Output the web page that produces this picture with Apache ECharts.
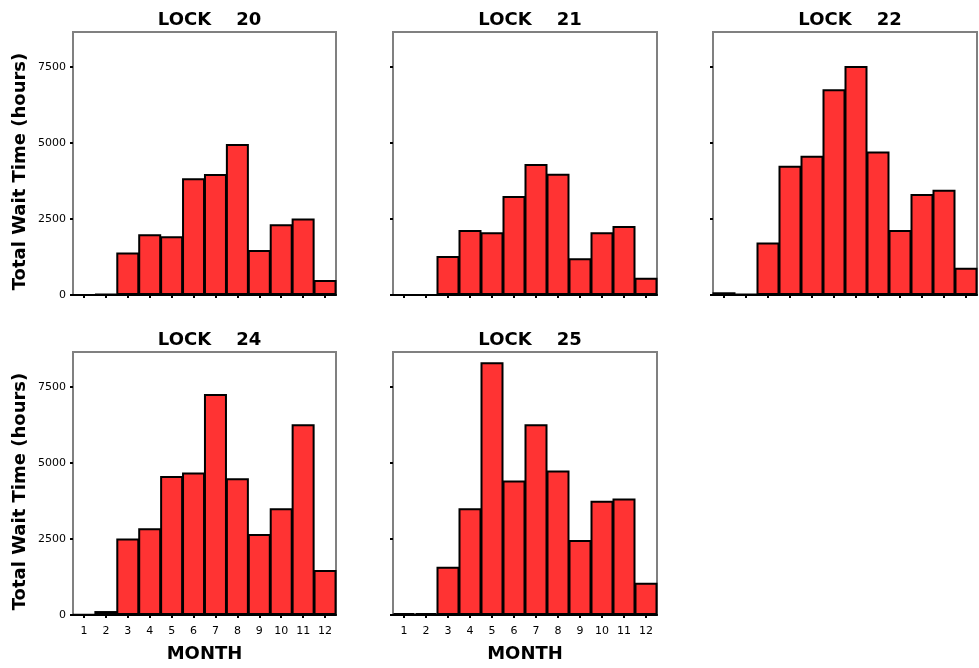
<!DOCTYPE html>
<html>
<head>
<meta charset="utf-8">
<script src="https://cdn.jsdelivr.net/npm/echarts@6/dist/echarts.min.js"></script>
<style>
html,body{margin:0;padding:0;background:#fff;}
#chart{width:979px;height:668px;}
</style>
</head>
<body>
<div id="chart"></div>
<script>
const months = ['1','2','3','4','5','6','7','8','9','10','11','12'];
const lockNames = ['LOCK    20','LOCK    21','LOCK    22','LOCK    24','LOCK    25'];
const lock20 = [0, 40, 1400, 2000, 1930, 3840, 3980, 4970, 1480, 2330, 2520, 490];
const lock21 = [0, 0, 1280, 2140, 2060, 3260, 4310, 3990, 1210, 2060, 2270, 570];
const lock22 = [90, 30, 1730, 4250, 4580, 6770, 7530, 4720, 2140, 3320, 3460, 900];
const lock24 = [10, 130, 2520, 2850, 4570, 4690, 7270, 4500, 2660, 3510, 6270, 1480];
const lock25 = [60, 60, 1590, 3510, 8310, 4420, 6270, 4750, 2470, 3760, 3830, 1060];
const yTicks = [0, 2500, 5000, 7500];
const yName = 'Total Wait Time (hours)';
const xName = 'MONTH';

const seriesData = [lock20, lock21, lock22, lock24, lock25];
const grids = [
  {left: 73, top: 32, width: 263, height: 263},
  {left: 393, top: 32, width: 264, height: 263},
  {left: 713, top: 32, width: 264, height: 263},
  {left: 73, top: 352, width: 263, height: 263},
  {left: 393, top: 352, width: 264, height: 263}
];
const showYLabels = [true, false, false, true, false];
const showXLabels = [false, false, false, true, true];
const FONT = 'DejaVu Sans';

const option = {
  backgroundColor: '#fff',
  animation: false,
  title: grids.map((g, i) => ({
    text: lockNames[i],
    left: g.left + g.width / 2,
    top: g.top - 26,
    textAlign: 'center',
    textStyle: {fontFamily: FONT, fontWeight: 'bold', fontSize: 18, color: '#000'}
  })),
  grid: grids.map(g => Object.assign({}, g, {
    show: true, borderColor: '#808080', borderWidth: 2, backgroundColor: 'transparent', containLabel: false
  })),
  xAxis: grids.map((g, i) => ({
    type: 'category',
    gridIndex: i,
    data: months,
    boundaryGap: true,
    axisLine: {show: true, lineStyle: {color: '#000', width: 2}},
    axisTick: {show: true, alignWithLabel: true, length: 3, lineStyle: {color: '#000', width: 2}},
    axisLabel: {show: showXLabels[i], fontFamily: FONT, fontSize: 11, color: '#000', margin: 11, interval: 0},
    name: showXLabels[i] ? xName : '',
    nameLocation: 'middle',
    nameGap: 30,
    nameTextStyle: {fontFamily: FONT, fontWeight: 'bold', fontSize: 18, color: '#000'},
    splitLine: {show: false}
  })),
  yAxis: grids.map((g, i) => ({
    type: 'value',
    gridIndex: i,
    min: 0,
    max: 8650,
    interval: 2500,
    axisLine: {show: true, lineStyle: {color: '#808080', width: 2}},
    axisTick: {show: true, length: 3, customValues: yTicks, lineStyle: {color: '#000', width: 2}},
    axisLabel: {show: showYLabels[i], customValues: yTicks, fontFamily: FONT, fontSize: 11, color: '#000', margin: 7,
      formatter: v => String(v)},
    splitLine: {show: false},
    name: showYLabels[i] ? yName : '',
    nameLocation: 'middle',
    nameGap: 44,
    nameTextStyle: {fontFamily: FONT, fontWeight: 'bold', fontSize: 18, color: '#000', padding: [0, 16, 0, 0]}
  })),
  series: seriesData.map((d, i) => ({
    type: 'bar',
    xAxisIndex: i,
    yAxisIndex: i,
    data: d,
    barWidth: 23,
    itemStyle: {color: '#FF3333', borderColor: '#000', borderWidth: 2}
  }))
};

const chart = echarts.init(document.getElementById('chart'), null, {renderer: 'canvas'});
chart.setOption(option);
</script>
</body>
</html>
